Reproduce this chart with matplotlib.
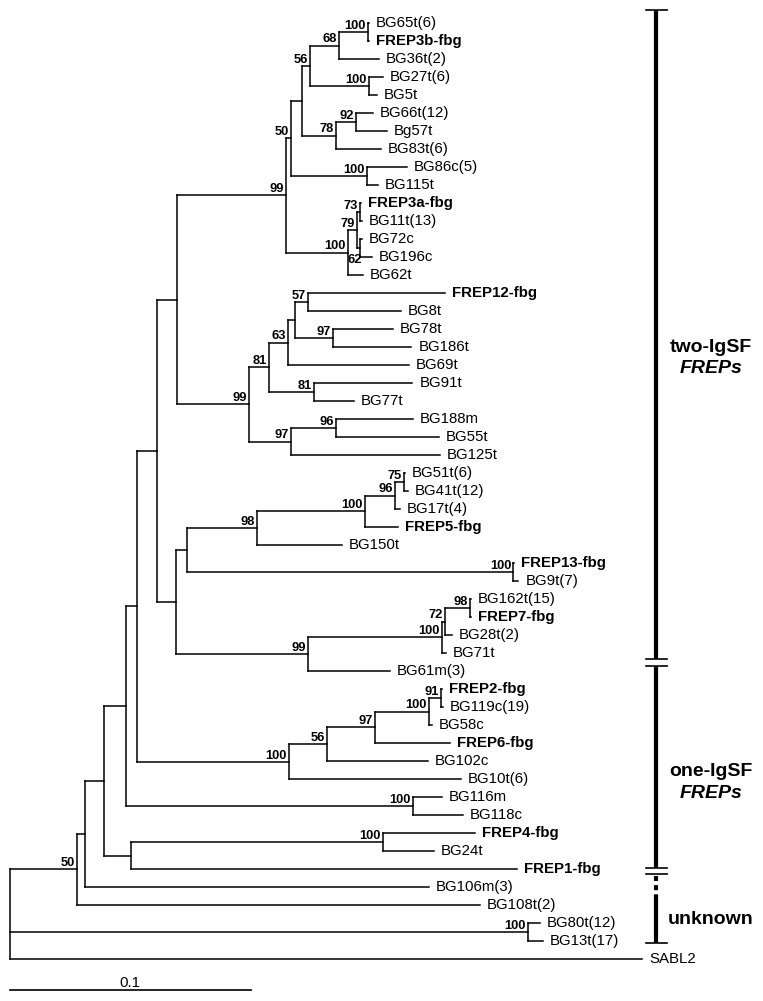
import matplotlib
matplotlib.use("Agg")
import matplotlib.pyplot as plt
from matplotlib.collections import LineCollection

plt.rcParams['font.family'] = ['Liberation Sans', 'DejaVu Sans']

# FREP fibrinogen-domain tree. Newick pieces: branch length = substitutions/site,
# internal node label = bootstrap support
frep3b_clade = ("((('BG65t(6)':0.0004,FREP3b-fbg:0.0004)100:0.0120,'BG36t(2)':0.0166)68:0.0120,"
                "('BG27t(6)':0.0058,BG5t:0.0033)100:0.0245)56:0.0033")
bg66_clade = "(('BG66t(12)':0.0071,Bg57t:0.0129)92:0.0083,'BG83t(6)':0.0187)78:0.0141"
bg86_clade = "('BG86c(5)':0.0166,BG115t:0.0046)100:0.0315"
frep3a_clade = ("(((FREP3a-fbg:0.0004,'BG11t(13)':0.0008)73:0.0012,"
                "(BG72c:0.0008,BG196c:0.0050)62:0.0012)79:0.0037,BG62t:0.0062)100:0.0257")
frep12_clade = ("((((FREP12-fbg:0.0568,BG8t:0.0386)57:0.0054,(BG78t:0.0249,BG186t:0.0324)97:0.0158):0.0029,"
                "BG69t:0.0502)63:0.0079,(BG91t:0.0407,BG77t:0.0166)81:0.0187)81:0.0083")
bg188_clade = "((BG188m:0.0320,BG55t:0.0427)96:0.0187,BG125t:0.0618)97:0.0174"
frep5_clade = ("(((('BG51t(6)':0.0004,'BG41t(12)':0.0017)75:0.0037,'BG17t(4)':0.0021)96:0.0124,"
               "FREP5-fbg:0.0137)100:0.0448,BG150t:0.0353)98:0.0290")
frep13_clade = "(FREP13-fbg:0.0004,'BG9t(7)':0.0021)100:0.1353"
frep7_clade = ("(((('BG162t(15)':0.0004,FREP7-fbg:0.0004)98:0.0104,'BG28t(2)':0.0029)72:0.0012,"
               "BG71t:0.0017)100:0.0556,'BG61m(3)':0.0340)99:0.0548")
frep2_clade = ("(((((FREP2-fbg:0.0004,'BG119c(19)':0.0008)91:0.0050,BG58c:0.0012)100:0.0224,"
               "FREP6-fbg:0.0311)97:0.0199,BG102c:0.0419)56:0.0158,'BG10t(6)':0.0714)100:0.0631")
bg116_clade = "(BG116m:0.0120,BG118c:0.0207)100:0.1191"
frep4_clade = "((FREP4-fbg:0.0382,BG24t:0.0212)100:0.1046,FREP1-fbg:0.1602):0.0112"
bg80_clade = "('BG80t(12)':0.0050,'BG13t(17)':0.0062)100:0.2151"

two_top = f"((({frep3b_clade},{bg66_clade}):0.0046,{bg86_clade})50:0.0021,{frep3a_clade})99:0.0452"
two_mid = f"({frep12_clade},{bg188_clade})99:0.0299"
two_low = f"(({frep5_clade},{frep13_clade}):0.0046,{frep7_clade}):0.0079"
core = f"(((({two_top},{two_mid}):0.0083,{two_low}):0.0083,{frep2_clade}):0.0046,{bg116_clade}):0.0091"
tree_newick = (f"(((({core},{frep4_clade}):0.0079,'BG106m(3)':0.1427):0.0033,'BG108t(2)':0.1672)50:0.0280,"
               f"{bg80_clade},SABL2:0.2624);")

# brackets on the right, spans in tip rows (row 0 = top tip)
group_names = ['two-IgSF', 'one-IgSF', 'unknown']
group_sub = ['FREPs', 'FREPs', '']
group_top = [-0.72, 35.72, 47.28]
group_bottom = [35.33, 46.94, 51.1]
group_text_row = [18.0, 41.56, 49.78]
scale_len = 0.1


def parse_newick(s):
    pos = 0

    def name():
        nonlocal pos
        if s[pos] == "'":
            end = s.index("'", pos + 1)
            txt = s[pos + 1:end]
            pos = end + 1
            return txt
        start = pos
        while s[pos] not in ",():;":
            pos += 1
        return s[start:pos]

    def node():
        nonlocal pos
        n = {'children': [], 'length': 0.0}
        if s[pos] == '(':
            pos += 1
            n['children'].append(node())
            while s[pos] == ',':
                pos += 1
                n['children'].append(node())
            pos += 1
        n['name'] = name()
        if s[pos] == ':':
            pos += 1
            start = pos
            while s[pos] not in ",);":
                pos += 1
            n['length'] = float(s[start:pos])
        return n

    return node()


def layout(n, x0, tips, inner):
    n['x'] = x0 + n['length']
    if n['children']:
        for c in n['children']:
            layout(c, n['x'], tips, inner)
        n['y'] = (n['children'][0]['y'] + n['children'][-1]['y']) / 2
        inner.append(n)
    else:
        n['y'] = len(tips)
        tips.append(n)


root = parse_newick(tree_newick)
tips, inner = [], []
layout(root, 0.0, tips, inner)

# 1 px = 1/2410 substitutions, rows 18 px apart
fig = plt.figure(figsize=(7.63, 10.01), dpi=100)
ax = fig.add_axes([0, 0, 1, 1])
ax.set_xlim(-9.6 / 2410, (763 - 9.6) / 2410)
ax.set_ylim((1001 - 23) / 18, -23 / 18)
ax.axis('off')

segs = []
for n in inner:
    segs.append([(n['x'], n['children'][0]['y']), (n['x'], n['children'][-1]['y'])])
    for c in n['children']:
        segs.append([(n['x'], c['y']), (c['x'], c['y'])])
ax.add_collection(LineCollection(segs, colors='black', linewidths=1.1, capstyle='projecting'))

for t in tips:
    bold = t['name'].startswith('FREP')
    ax.annotate(t['name'], (t['x'], t['y']), xytext=(5, 0), textcoords='offset points',
                ha='left', va='center', fontsize=10.8,
                fontweight='bold' if bold else 'normal')

for n in inner:
    if not n['name']:
        continue
    first = n['children'][0]
    while first['children']:
        first = first['children'][0]
    if first['name'] == 'BG72c':
        ax.annotate(n['name'], (n['x'], n['y']), xytext=(1.5, -4), textcoords='offset points',
                    ha='right', va='top', fontsize=9.3, fontweight='bold')
    else:
        ax.annotate(n['name'], (n['x'], n['y']), xytext=(-1.5, 2.2), textcoords='offset points',
                    ha='right', va='baseline', fontsize=9.3, fontweight='bold')

# group brackets
bx = (656 - 9.6) / 2410
sw = 10.5 / 2410
for name, sub, top, bot, trow in zip(group_names, group_sub, group_top, group_bottom, group_text_row):
    if name == 'unknown':
        ax.plot([bx, bx], [top + 0.1, 48.6], color='black', lw=3.0, dashes=(1.2, 1.0))
        ax.plot([bx, bx], [48.6, bot], color='black', lw=3.0, solid_capstyle='butt')
    else:
        ax.plot([bx, bx], [top, bot], color='black', lw=3.0, solid_capstyle='butt')
    ax.plot([bx - sw, bx + sw], [top, top], color='black', lw=1.2)
    ax.plot([bx - sw, bx + sw], [bot, bot], color='black', lw=1.2)
    tx = (711 - 9.6) / 2410
    ax.text(tx, trow, name, ha='center', va='center', fontsize=14, fontweight='bold')
    if sub:
        ax.text(tx, trow + 1.22, sub, ha='center', va='center', fontsize=14,
                fontweight='bold', fontstyle='italic')

# scale bar
sy = (990 - 23) / 18
ax.plot([0, scale_len], [sy, sy], color='black', lw=1.2)
ax.annotate(f"{scale_len:g}", (scale_len / 2, sy), xytext=(0, 2.5), textcoords='offset points',
            ha='center', va='baseline', fontsize=10.8)

fig.savefig('out.png', dpi=100)
